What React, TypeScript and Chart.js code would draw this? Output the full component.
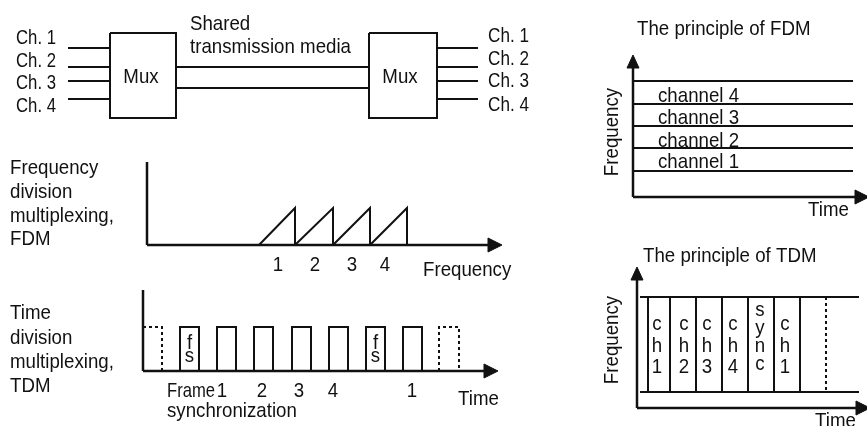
import React, { useEffect, useRef } from 'react';
import { Chart, registerables } from 'chart.js';

Chart.register(...registerables);

const W = 867;
const H = 426;
const INK = '#111111';
const FONT = '21px "Liberation Sans", Arial, sans-serif';
const FONT_STRETCH = 0.89;

// ---- Multiplexer link (top left) ----
const muxChannels = ['Ch. 1', 'Ch. 2', 'Ch. 3', 'Ch. 4'];
const muxWireY = [48, 67, 81, 99];
const muxInLabelY = [44, 67, 89, 112];
const muxOutLabelY = [42, 65, 87, 111];
const muxBoxesX = [[110, 176], [369, 437]];
const muxBoxY = [33, 118];
const muxLabelX = [141, 400];
const inputWireX = [68, 110];
const outputWireX = [437, 478];
const sharedWireY = [67, 88];
const sharedCaption = ['Shared', 'transmission media'];
const sharedCaptionY = [30, 53];

// ---- FDM spectrum (middle left) ----
const fdmCaption = ['Frequency', 'division', 'multiplexing,', 'FDM'];
const fdmCaptionY = [174, 198, 222, 245];
const fdmBands = ['1', '2', '3', '4'];
const fdmBandEdges = [259, 295, 333, 370, 407];
const fdmBandLabelX = [278, 315, 352, 385];
const fdmBase = 245;
const fdmPeak = 208;

// ---- TDM time line (bottom left) ----
const tdmCaption = ['Time', 'division', 'multiplexing,', 'TDM'];
const tdmCaptionY = [319, 344, 368, 392];
const tdmSlots = ['fs', '1', '2', '3', '4', 'fs', '1'];
const tdmSlotStart = [180, 217, 254, 292, 329, 366, 403];
const tdmSlotWidth = 19;
const tdmSlotLabels = ['1', '2', '3', '4', '1'];
const tdmSlotLabelX = [222, 262, 299, 333, 412];
const tdmBase = 371;
const tdmTop = 327;

// ---- Principle of FDM (top right) ----
const fdmChannelNames = ['channel 1', 'channel 2', 'channel 3', 'channel 4'];
const fdmChannelLabelY = [168, 147, 124, 102];
const fdmChannelLineY = [171, 148, 126, 104, 81];

// ---- Principle of TDM (bottom right) ----
const tdmColumns = [['c', 'h', '1'], ['c', 'h', '2'], ['c', 'h', '3'], ['c', 'h', '4'], ['s', 'y', 'n', 'c'], ['c', 'h', '1']];
const tdmColumnX = [657, 684, 707, 733, 760, 785];
const tdmColumnRowY3 = [330, 352, 373];
const tdmColumnRowY4 = [316, 334, 352, 370];
const tdmDividerX = [648, 670, 696, 722, 748, 774, 800];
const tdmDottedX = 826;
const tdmBandY = [297, 392];

type P = { x: number; y: number };
type Stroke = { pts: P[]; width: number; dash?: number[] };
type Txt = { t: string; x: number; y: number; align?: CanvasTextAlign; rot?: number; w?: number };

const p = (x: number, y: number): P => ({ x, y });

function buildStrokes(): Stroke[] {
  const s: Stroke[] = [];
  const line = (pts: P[], width = 2, dash?: number[]) => s.push({ pts, width, dash });
  muxBoxesX.forEach(([a, b]) => line([p(a, muxBoxY[0]), p(b, muxBoxY[0]), p(b, muxBoxY[1]), p(a, muxBoxY[1]), p(a, muxBoxY[0])]));
  muxWireY.forEach((y) => {
    line([p(inputWireX[0], y), p(inputWireX[1], y)]);
    line([p(outputWireX[0], y), p(outputWireX[1], y)]);
  });
  sharedWireY.forEach((y) => line([p(muxBoxesX[0][1], y), p(muxBoxesX[1][0], y)], 2.2));
  line([p(147, 162), p(147, fdmBase)], 2.5);
  line([p(147, fdmBase), p(490, fdmBase)], 2.5);
  for (let i = 0; i < fdmBands.length; i++) {
    const a = fdmBandEdges[i];
    const b = fdmBandEdges[i + 1];
    line([p(a, fdmBase), p(b, fdmPeak), p(b, fdmBase)], 2);
  }
  line([p(143, 290), p(143, tdmBase)], 2.5);
  line([p(143, tdmBase), p(486, tdmBase)], 2.5);
  tdmSlotStart.forEach((a) => {
    const b = a + tdmSlotWidth;
    line([p(a, tdmBase), p(a, tdmTop), p(b, tdmTop), p(b, tdmBase)], 2);
  });
  line([p(143, tdmTop), p(162, tdmTop), p(162, tdmBase)], 2, [3, 3]);
  line([p(439, tdmBase), p(439, tdmTop), p(459, tdmTop), p(459, tdmBase)], 2, [3, 3]);
  line([p(633, 197), p(633, 66)], 2.5);
  line([p(633, 197), p(857, 197)], 2.5);
  fdmChannelLineY.forEach((y) => line([p(633, y), p(853, y)], 2));
  line([p(637, 408), p(637, 278)], 2.5);
  line([p(637, 408), p(858, 408)], 2.5);
  tdmBandY.forEach((y) => line([p(640, y), p(859, y)], 2));
  tdmDividerX.forEach((x) => line([p(x, tdmBandY[0]), p(x, tdmBandY[1])], 2));
  line([p(tdmDottedX, tdmBandY[0]), p(tdmDottedX, tdmBandY[1])], 2, [3, 3]);
  return s;
}

const arrowHeads: P[][] = [
  [p(488, 238), p(502, 245), p(488, 252)],
  [p(484, 364), p(498, 371), p(484, 378)],
  [p(627, 68), p(633, 55), p(639, 68)],
  [p(855, 190), p(869, 197), p(855, 204)],
  [p(631, 280), p(637, 267), p(643, 280)],
  [p(856, 401), p(870, 408), p(856, 415)],
];

function buildTexts(): Txt[] {
  const t: Txt[] = [];
  muxChannels.forEach((c, i) => {
    t.push({ t: c, x: 16, y: muxInLabelY[i], w: 40 });
    t.push({ t: c, x: 488, y: muxOutLabelY[i], w: 41 });
  });
  muxLabelX.forEach((x) => t.push({ t: 'Mux', x, y: 83, align: 'center' }));
  sharedCaption.forEach((c, i) => t.push({ t: c, x: 190, y: sharedCaptionY[i] }));
  fdmCaption.forEach((c, i) => t.push({ t: c, x: 10, y: fdmCaptionY[i] }));
  fdmBands.forEach((b, i) => t.push({ t: b, x: fdmBandLabelX[i], y: 271, align: 'center' }));
  t.push({ t: 'Frequency', x: 423, y: 276 });
  tdmCaption.forEach((c, i) => t.push({ t: c, x: 10, y: tdmCaptionY[i] }));
  tdmSlots.forEach((sl, i) => {
    if (sl === 'fs') {
      const cx = tdmSlotStart[i] + tdmSlotWidth / 2;
      t.push({ t: 'f', x: cx, y: 349, align: 'center' });
      t.push({ t: 's', x: cx, y: 362, align: 'center' });
    }
  });
  t.push({ t: 'Frame', x: 167, y: 397, w: 48 });
  tdmSlotLabels.forEach((l, i) => t.push({ t: l, x: tdmSlotLabelX[i], y: 397, align: 'center' }));
  t.push({ t: 'synchronization', x: 167, y: 417 });
  t.push({ t: 'Time', x: 458, y: 405 });
  t.push({ t: 'The principle of FDM', x: 637, y: 35 });
  t.push({ t: 'Frequency', x: 618, y: 132, align: 'center', rot: -Math.PI / 2 });
  fdmChannelNames.forEach((n, i) => t.push({ t: n, x: 658, y: fdmChannelLabelY[i] }));
  t.push({ t: 'Time', x: 808, y: 216 });
  t.push({ t: 'The principle of TDM', x: 643, y: 262 });
  t.push({ t: 'Frequency', x: 618, y: 340, align: 'center', rot: -Math.PI / 2 });
  tdmColumns.forEach((col, i) => {
    const rows = col.length === 4 ? tdmColumnRowY4 : tdmColumnRowY3;
    col.forEach((ch, j) => t.push({ t: ch, x: tdmColumnX[i], y: rows[j], align: 'center' }));
  });
  t.push({ t: 'Time', x: 815, y: 427 });
  return t;
}

export default function App() {
  const ref = useRef<HTMLCanvasElement | null>(null);

  useEffect(() => {
    const canvas = ref.current;
    if (!canvas) return;
    const strokes = buildStrokes();
    const texts = buildTexts();

    const datasets: any[] = strokes.map((s) => ({
      data: s.pts,
      showLine: true,
      borderColor: INK,
      borderWidth: s.width,
      borderDash: s.dash || [],
      borderCapStyle: 'butt',
      borderJoinStyle: 'miter',
      pointRadius: 0,
      pointHoverRadius: 0,
      fill: false,
      tension: 0,
      clip: false,
    }));
    arrowHeads.forEach((tri) => {
      datasets.push({
        data: [...tri, tri[0]],
        showLine: true,
        borderColor: INK,
        backgroundColor: INK,
        borderWidth: 1,
        pointRadius: 0,
        fill: 'shape',
        tension: 0,
        clip: false,
      });
    });

    const textPlugin = {
      id: 'diagramText',
      afterDatasetsDraw(chart: any) {
        const { ctx } = chart;
        const xs = chart.scales.x;
        const ys = chart.scales.y;
        ctx.save();
        ctx.fillStyle = INK;
        ctx.font = FONT;
        ctx.textBaseline = 'alphabetic';
        for (const it of texts) {
          ctx.save();
          ctx.translate(xs.getPixelForValue(it.x), ys.getPixelForValue(it.y));
          if (it.rot) ctx.rotate(it.rot);
          ctx.scale(FONT_STRETCH, 1);
          ctx.textAlign = it.align || 'left';
          if (it.w) ctx.fillText(it.t, 0, 0, it.w / FONT_STRETCH);
          else ctx.fillText(it.t, 0, 0);
          ctx.restore();
        }
        ctx.restore();
      },
    };

    const chart = new Chart(canvas, {
      type: 'scatter',
      data: { datasets },
      options: {
        responsive: false,
        animation: false,
        devicePixelRatio: 1,
        layout: { padding: 0 },
        plugins: { legend: { display: false }, tooltip: { enabled: false }, title: { display: false } },
        events: [],
        scales: {
          x: { type: 'linear', min: 0, max: W, display: false },
          y: { type: 'linear', min: 0, max: H, reverse: true, display: false },
        },
      },
      plugins: [textPlugin],
    });
    return () => chart.destroy();
  }, []);

  return (
    <div style={{ position: 'fixed', left: 0, top: 0, width: W, height: H, background: '#fff' }}>
      <canvas ref={ref} width={W} height={H} style={{ width: W, height: H, display: 'block' }} />
    </div>
  );
}
